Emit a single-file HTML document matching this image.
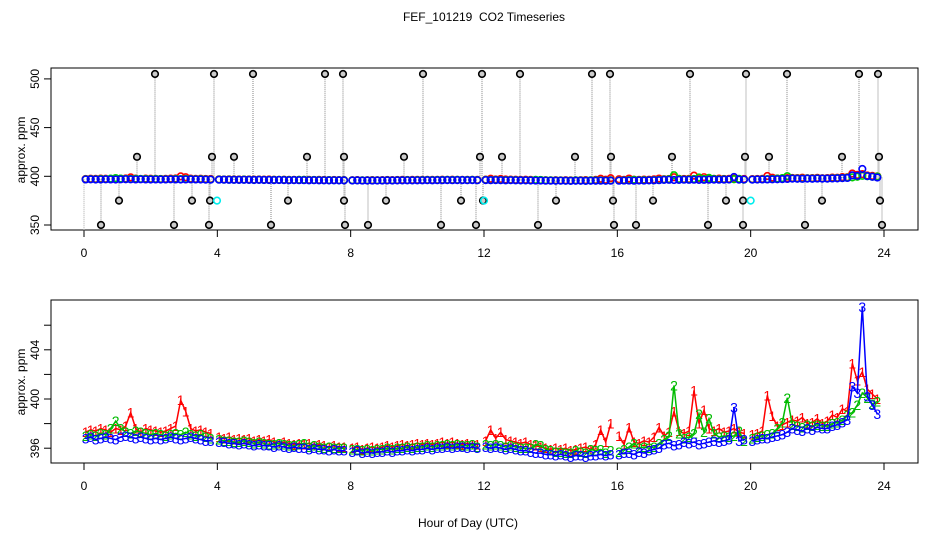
<!DOCTYPE html>
<html><head><meta charset="utf-8"><style>
html,body{margin:0;padding:0;background:#fff;}
svg{display:block;font-family:"Liberation Sans",sans-serif;}
</style></head><body>
<svg id="chart" width="936" height="540" viewBox="0 0 936 540" xmlns="http://www.w3.org/2000/svg">
<rect x="0" y="0" width="936" height="540" fill="#fff"/>
<text x="484" y="21" font-size="12" text-anchor="middle" style="white-space:pre">FEF_101219  CO2 Timeseries</text>
<text x="468" y="527" font-size="12" text-anchor="middle">Hour of Day (UTC)</text>
<text transform="translate(25,150) rotate(-90)" font-size="12" text-anchor="middle">approx. ppm</text>
<text transform="translate(25,382) rotate(-90)" font-size="12" text-anchor="middle">approx. ppm</text>
<g id="topPanel"></g>
<g id="botPanel"></g>
</svg>
<script>
const xTicks=[0,4,8,12,16,20,24];
const topYTicks=[350,400,450,500];
const botYTicks=[396,398,400,402,404,406];
const botYLabels=[396,400,404];
const segStarts=[0,4,8,12,16,20];
const s3=[396.8,396.9,396.7,396.8,396.9,396.8,396.7,396.9,397.0,396.9,396.8,396.9,396.8,396.7,396.8,396.7,396.8,396.9,396.8,396.7,396.8,396.9,396.8,396.7,396.6,396.6,
396.5,396.5,396.4,396.4,396.3,396.4,396.3,396.2,396.3,396.2,396.2,396.1,396.2,396.1,396.0,396.1,396.0,396.0,395.9,396.0,395.9,395.9,395.8,395.9,395.8,395.8,
395.7,395.8,395.6,395.7,395.6,395.7,395.7,395.8,395.7,395.8,395.8,395.9,395.8,395.9,395.9,396.0,395.9,396.0,396.0,396.1,396.0,396.1,396.1,396.0,396.1,396.0,
396.1,396.0,396.1,396.0,395.9,396.0,395.9,395.8,395.8,395.7,395.6,395.6,395.5,395.5,395.4,395.5,395.4,395.3,395.4,395.4,395.3,395.4,395.4,395.5,395.4,395.5,
395.5,395.6,395.6,395.5,395.7,395.6,395.8,395.9,396.0,396.3,396.4,396.2,396.3,396.5,396.4,396.5,396.3,396.4,396.5,396.6,396.5,396.6,396.7,399.3,396.6,396.7,
396.6,396.7,396.8,396.8,396.9,397.0,397.1,397.3,397.6,397.5,397.4,397.6,397.5,397.7,397.6,397.6,397.8,397.9,398.1,398.3,401.0,400.5,407.5,400.2,399.5,398.8];
const s2=[397.0,397.1,397.0,397.2,397.1,397.6,398.2,397.6,397.3,397.2,397.4,397.3,397.2,397.1,397.2,397.1,397.0,397.1,397.2,397.1,397.3,397.1,397.0,397.1,396.9,396.8,
396.7,396.6,396.6,396.5,396.5,396.6,396.5,396.4,396.5,396.4,396.3,396.3,396.4,396.3,396.2,396.2,396.3,396.4,396.1,396.2,396.1,396.0,396.1,396.0,396.0,396.0,
395.9,395.9,395.8,395.9,395.8,395.9,395.9,396.0,395.9,396.0,396.0,396.1,396.0,396.1,396.1,396.2,396.1,396.2,396.2,396.3,396.2,396.3,396.2,396.2,396.3,396.1,
396.3,396.2,396.3,396.2,396.1,396.2,396.1,396.0,396.0,396.0,396.3,396.2,395.9,395.8,395.7,395.7,395.6,395.6,395.8,395.7,395.6,395.9,395.8,395.9,395.6,395.8,
395.7,395.9,396.1,396.4,396.0,396.1,396.0,396.1,396.4,396.7,397.0,401.1,397.2,396.8,396.9,397.2,398.8,397.3,398.4,397.2,396.9,397.0,396.9,397.0,397.4,396.6,
396.8,396.9,397.0,397.1,397.2,397.6,398.1,400.1,397.9,397.8,397.7,397.9,397.8,397.9,397.8,397.8,398.0,398.1,398.3,398.7,398.9,399.5,400.5,400.1,399.6,399.8];
const s1=[397.3,397.5,397.4,397.6,397.5,397.3,397.6,397.5,397.8,398.9,397.6,397.3,397.6,397.5,397.4,397.3,397.4,397.6,397.8,399.9,399.0,397.6,397.4,397.5,397.3,397.2,
396.9,396.8,396.9,396.7,396.8,396.7,396.8,396.6,396.7,396.6,396.7,396.5,396.4,396.5,396.4,396.3,396.4,396.3,396.4,396.2,396.3,396.2,396.1,396.2,396.1,396.1,
396.0,396.1,395.9,396.0,396.1,396.0,396.1,396.2,396.1,396.2,396.3,396.2,396.3,396.4,396.3,396.4,396.3,396.4,396.5,396.4,396.5,396.4,396.3,396.4,396.3,396.3,
396.6,397.5,396.8,397.3,396.7,396.6,396.5,396.4,396.5,396.3,396.2,396.1,396.0,395.9,396.0,395.9,396.0,395.8,395.9,396.0,396.1,395.9,396.3,397.5,396.5,398.0,
397.0,396.3,397.7,396.5,396.4,396.6,396.5,396.9,397.7,397.0,397.3,399.0,397.4,397.2,397.4,400.7,398.0,399.1,397.6,397.4,397.6,397.3,397.4,397.6,397.3,397.2,
397.1,397.2,397.4,400.3,398.6,397.8,397.9,398.1,398.3,398.2,398.5,398.0,398.1,398.4,398.0,398.2,398.7,398.5,399.2,399.0,402.9,401.5,402.2,400.8,400.4,400.0];
const outHours=[2.13,3.9,5.07,7.23,7.77,10.17,11.94,13.08,15.24,15.78,18.18,19.86,21.09,23.25,23.82,
1.59,3.84,4.5,6.69,7.8,9.6,11.88,12.54,14.73,15.81,17.64,19.83,20.55,22.74,23.85,
1.05,3.24,3.78,6.12,7.8,9.06,11.31,11.97,14.16,15.87,17.07,19.26,19.77,22.14,23.88,
0.51,2.7,3.75,5.61,7.83,8.52,10.71,11.76,13.62,15.9,16.56,18.72,19.77,21.63,23.94];
const outLevels=[505,505,505,505,505,505,505,505,505,505,505,505,505,505,505,
420,420,420,420,420,420,420,420,420,420,420,420,420,420,420,
375,375,375,375,375,375,375,375,375,375,375,375,375,375,375,
350,350,350,350,350,350,350,350,350,350,350,350,350,350,350];
const cyanHours=[3.99,12.0,20.0];
const cyanLevels=[375,375,375];

const NS='http://www.w3.org/2000/svg';
function mk(tag,attrs,parent){const e=document.createElementNS(NS,tag);for(const k in attrs)e.setAttribute(k,attrs[k]);parent.appendChild(e);return e;}
const X=h=>84+h*800/24;
const YT=v=>176.3-(v-400)*0.974;
const YB=v=>399-(v-400)*12.3;
function hourOf(i){const seg=Math.floor(i/26);return segStarts[seg]+0.05+0.15*(i%26);}

function frame(g,y0,y1,name){
  const r=mk('rect',{x:51,y:y0,width:867,height:y1-y0,fill:'none',stroke:'#000','stroke-width':1},g);
  
  
  xTicks.forEach(t=>{
    const l=mk('line',{x1:X(t),x2:X(t),y1:y1,y2:y1+7,stroke:'#000'},g);
    
    
    const tx=mk('text',{x:X(t),y:y1+27,'font-size':12,'text-anchor':'middle'},g);
    tx.textContent=t;
    
    
  });
}
const topG=document.getElementById('topPanel');
frame(topG,68,230,'top-plot-frame');
topYTicks.forEach(v=>{
  const l=mk('line',{x1:44,x2:51,y1:YT(v),y2:YT(v),stroke:'#000'},topG);
  
  
  const t=mk('text',{transform:`translate(39,${YT(v)}) rotate(-90)`,'font-size':12,'text-anchor':'middle'},topG);
  t.textContent=v;
  
  
});
const baseAt=h=>{let best=0,bd=1e9;for(let i=0;i<s3.length;i++){const d=Math.abs(hourOf(i)-h);if(d<bd){bd=d;best=i;}}return s3[best];};
const l0=mk('line',{x1:X(0),x2:X(0),y1:YT(397),y2:YT(344),stroke:'#aaa','stroke-dasharray':'1,1'},topG);


outHours.forEach((h,i)=>{
  const l=mk('line',{x1:X(h),x2:X(h),y1:YT(baseAt(h)),y2:YT(outLevels[i]),stroke:'#999','stroke-width':1.2,'stroke-dasharray':'1,1'},topG);
  
  
});
[[s1,'#f00','series1'],[s2,'#0c0','series2'],[s3,'#00f','series3']].forEach(([arr,col,nm])=>{
  arr.forEach((v,i)=>{
    const c=mk('circle',{cx:X(hourOf(i)),cy:YT(v),r:3.3,fill:'none',stroke:col,'stroke-width':1.6},topG);
    
    
  });
});
outHours.forEach((h,i)=>{
  const c=mk('circle',{cx:X(h),cy:YT(outLevels[i]),r:3.3,fill:'#ccc',stroke:'#000','stroke-width':1.6},topG);
  
  
});
cyanHours.forEach((h,i)=>{
  const c=mk('circle',{cx:X(h),cy:YT(cyanLevels[i]),r:3.3,fill:'none',stroke:'#0ee','stroke-width':1.6},topG);
  
  
});
const botG=document.getElementById('botPanel');
frame(botG,300,463,'bottom-plot-frame');
botYTicks.forEach(v=>{
  const l=mk('line',{x1:44,x2:51,y1:YB(v),y2:YB(v),stroke:'#000'},botG);
  
  
});
botYLabels.forEach(v=>{
  const t=mk('text',{transform:`translate(39,${YB(v)}) rotate(-90)`,'font-size':12,'text-anchor':'middle'},botG);
  t.textContent=v;
  
  
});
[[s1,'#f00','1','series1'],[s2,'#0b0','2','series2'],[s3,'#00f','3','series3']].forEach(([arr,col,ch,nm])=>{
  for(let s=0;s<segStarts.length;s++){
    const pts=[];
    for(let i=s*26;i<s*26+26;i++)pts.push(X(hourOf(i)).toFixed(1)+','+YB(arr[i]).toFixed(1));
    const p=mk('polyline',{points:pts.join(' '),fill:'none',stroke:col,'stroke-width':1.5},botG);
    
    
  }
  arr.forEach((v,i)=>{
    const t=mk('text',{x:X(hourOf(i)),y:YB(v)+5,'font-size':14,'text-anchor':'middle',fill:col},botG);
    t.textContent=ch;
    
    
  });
});
</script>
</body></html>
